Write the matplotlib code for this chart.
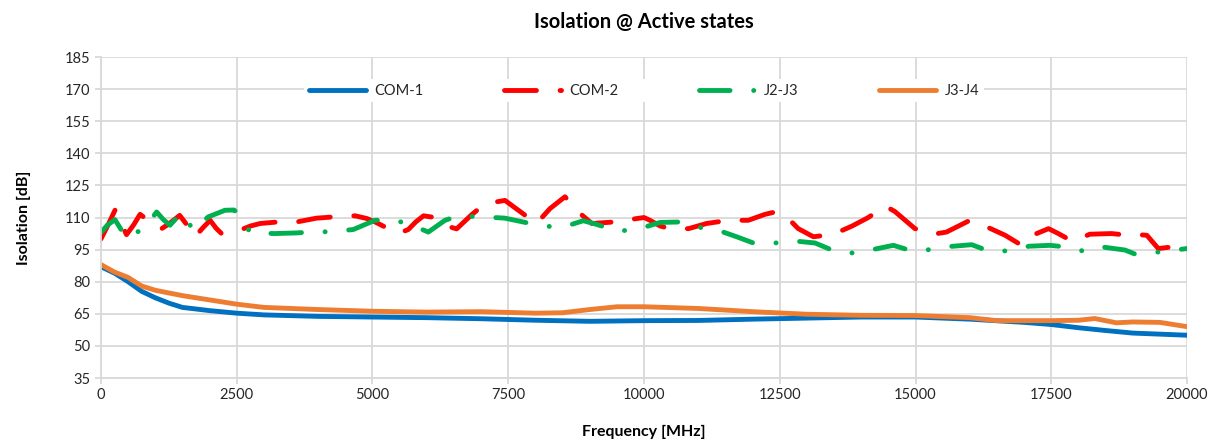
import matplotlib.pyplot as plt

plt.rcParams['font.family'] = ['Lato', 'DejaVu Sans']
plt.rcParams['lines.scale_dashes'] = False

# COM-1 (blue)
com1_f = [0, 250, 500, 750, 1000, 1250, 1500, 2000, 2500, 3000, 4000, 5000, 6000, 7000,
          8000, 9000, 10000, 11000, 12000, 13000, 14000, 15000, 16000, 17000, 17500,
          18000, 18500, 19000, 19500, 20000]
com1_db = [87, 84, 80, 75.5, 72.5, 70, 68, 66.5, 65.3, 64.5, 63.8, 63.5, 63.2, 62.7,
           62, 61.5, 61.8, 61.9, 62.5, 63, 63.5, 63.5, 62.5, 61, 60,
           58.5, 57.2, 56, 55.5, 55]

# J3-J4 (orange)
j34_f = [0, 250, 500, 750, 1000, 1500, 2000, 2500, 3000, 4000, 5000, 6000, 7000, 8000,
         8500, 9000, 9500, 10000, 11000, 12000, 13000, 14000, 15000, 16000, 16500,
         17000, 17500, 18000, 18300, 18700, 19000, 19500, 20000]
j34_db = [88, 84.5, 82, 78, 76, 73.5, 71.5, 69.5, 68, 67, 66.2, 65.8, 66, 65.3,
          65.5, 67, 68.3, 68.3, 67.5, 66, 64.8, 64.3, 64.2, 63.2, 61.8,
          61.8, 61.8, 62, 62.8, 60.8, 61.2, 61, 59]

# COM-2 (red)
com2_f = [0, 120, 260, 380, 470, 600, 720, 850, 965, 1100, 1250, 1450, 1600, 1730,
          1870, 2010, 2120, 2220, 2400, 2590, 2750, 2930, 3200, 3600, 3970, 4300,
          4680, 4900, 5050, 5290, 5475, 5660, 5800, 5940, 6150, 6340, 6550, 6830,
          7070, 7440, 7600, 7750, 8020, 8270, 8545, 8790, 9040, 9435, 10000, 10110,
          10300, 10480, 10820, 11150, 11550, 11920, 12230, 12400, 12580, 12840, 13120,
          13490, 13830, 14130, 14440, 14620, 14990, 15330, 15570, 15970, 16150, 16340,
          16650, 16955, 17100, 17230, 17450, 17630, 17880, 18050, 18210, 18610, 18920,
          19100, 19260, 19470, 19840, 20000]
com2_db = [100, 106, 113.5, 107, 102, 106.5, 111.5, 109, 106.4, 104.5, 107, 111, 106, 101,
           105, 108.7, 105, 102.5, 103.2, 104.4, 106, 107.2, 107.8, 107.9, 109.7, 110.3,
           110.8, 109.5, 107.9, 104.8, 102.5, 104.4, 108, 110.8, 110, 106.2, 104.7, 111.4,
           116.4, 118, 115, 112.2, 107.2, 114.2, 119.7, 112.6, 107.2, 107.9, 110, 108.7,
           106, 104.8, 104.8, 107.2, 108.7, 108.7, 111.5, 112.5, 111.5, 104.8, 101,
           102.2, 106, 110, 115.4, 112.8, 104.8, 102.2, 103.2, 108.3, 108, 105.3,
           101.7, 97, 100, 102.5, 104.8, 102.5, 99, 100.5, 102.2, 102.5, 101.7,
           102, 101.7, 95.5, 96.6, 96.5]

# J2-J3 (green)
j23_f = [0, 120, 258, 380, 503, 650, 810, 920, 1025, 1150, 1271, 1400, 1498, 1620, 1731,
         1850, 1976, 2284, 2450, 2529, 2650, 2775, 3204, 3600, 3849, 4260, 4647, 5046,
         5370, 5690, 6028, 6335, 6611, 6827, 7041, 7440, 8115, 8495, 8882, 9098, 9527,
         9908, 10295, 10632, 10970, 11356, 11707, 12044, 12413, 12781, 13149, 13517,
         13855, 14205, 14592, 14930, 15267, 15654, 16035, 16341, 16648, 17096, 17477,
         17784, 17937, 18121, 18477, 18858, 19042, 19533, 20000]
j23_db = [103, 106.5, 109, 104, 100.2, 103, 105, 109, 112.6, 109, 106.4, 110, 111.9, 107, 104,
          107.5, 110.3, 113.4, 113.5, 111.9, 106, 102.8, 102.5, 102.8, 103.2, 103.4, 104.4, 108.7,
          109, 106.8, 103.2, 108.7, 111, 110.5, 110.3, 109.7, 106.1, 105.4, 108.5, 107, 103.6,
          104.7, 107.7, 107.9, 105.6, 104.1, 101, 97.8, 98.1, 99, 98.1, 94.2,
          93.4, 95, 97, 94.4, 95, 96.5, 97.3, 94.4, 94.4, 96.6, 97,
          96.2, 95.5, 94, 96.1, 94.8, 92.9, 94, 95.5]

x_ticks = list(range(0, 20001, 2500))
y_ticks = list(range(35, 186, 15))

fig = plt.figure(figsize=(12.15, 4.44), dpi=100)
ax = fig.add_axes([0.0831, 0.1486, 0.8939, 0.723])

lw = 3.5
ax.plot(com1_f, com1_db, color='#0070C0', lw=lw, solid_capstyle='round', label='COM-1')
ax.plot(com2_f, com2_db, color='#FF0000', lw=lw, dashes=(23, 17), dash_capstyle='round',
        label='COM-2')
ax.plot(j23_f, j23_db, color='#00B050', lw=lw, dashes=(22, 17, 0.1, 17),
        dash_capstyle='round', label='J2-J3')
ax.plot(j34_f, j34_db, color='#ED7D31', lw=lw, solid_capstyle='round', label='J3-J4')

ax.set_xlim(0, 20000)
ax.set_ylim(35, 185)
ax.set_xticks(x_ticks)
ax.set_yticks(y_ticks)
ax.grid(True, color='#D9D9D9', lw=1.3)
ax.set_axisbelow(True)
for s in ['top', 'right']:
    ax.spines[s].set_visible(False)
for s in ['left', 'bottom']:
    ax.spines[s].set_color('#D9D9D9')
    ax.spines[s].set_linewidth(1.3)
ax.tick_params(colors='#D9D9D9', labelcolor='#262626', labelsize=10.5, length=4, width=1.3)

ax.set_title('Isolation @ Active states', fontsize=14.5, fontweight='bold', color='#000000', pad=21)
ax.set_xlabel('Frequency [MHz]', fontsize=11.5, fontweight='bold', color='#000000', labelpad=16)
ax.set_ylabel('Isolation [dB]', fontsize=11.5, fontweight='bold', color='#000000', labelpad=24)

leg = ax.legend(loc='upper center', bbox_to_anchor=(0.50, 0.93), ncol=4, frameon=True,
                fontsize=10.5, handlelength=3.9, handletextpad=0.6, columnspacing=5.5,
                borderaxespad=0.0, borderpad=0.3,
                facecolor='white', edgecolor='none', framealpha=1, fancybox=False)
for t in leg.get_texts():
    t.set_color('#262626')

fig.savefig('out.png', dpi=100)
